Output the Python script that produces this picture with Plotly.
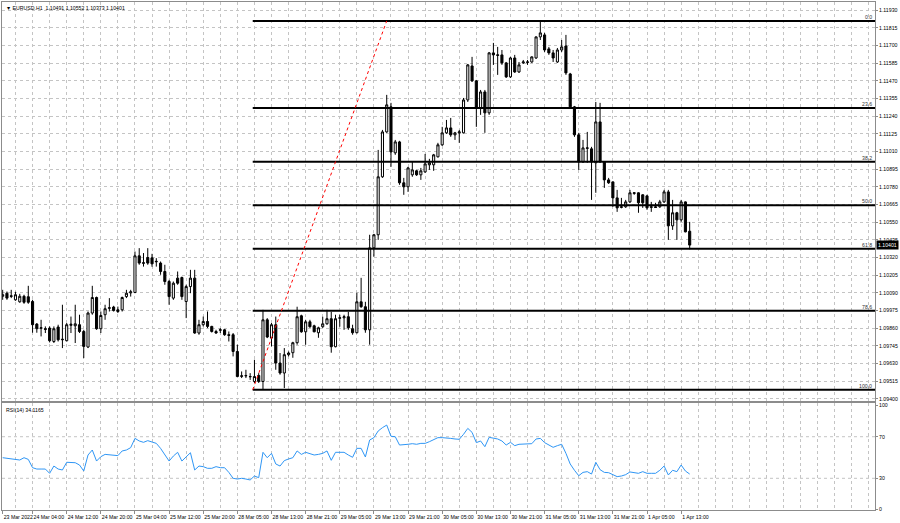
import plotly.graph_objects as go

bars = list(range(162))

open_ = [1.10068,1.10088,1.10071,1.10045,1.10032,1.10068,1.10065,1.10034,1.09887,1.09860,
1.09857,1.09861,1.09774,1.09868,1.09785,1.09779,1.09879,1.09876,1.09883,1.09839,
1.09738,1.09959,1.10060,1.09857,1.09948,1.09990,1.09998,1.09980,1.09980,1.10066,
1.10090,1.10093,1.10331,1.10282,1.10320,1.10318,1.10292,1.10284,1.10229,1.10164,
1.10056,1.10186,1.10190,1.10034,1.10131,1.10186,1.09829,1.09883,1.09904,1.09872,
1.09839,1.09847,1.09850,1.09818,1.09818,1.09709,1.09551,1.09553,1.09546,1.09514,
1.09553,1.09514,1.09915,1.09796,1.09883,1.09634,1.09569,1.09688,1.09701,1.09766,
1.09941,1.09837,1.09902,1.09876,1.09831,1.09870,1.09889,1.09922,1.09740,1.09925,
1.09928,1.09935,1.09857,1.09831,1.10032,1.10000,1.09850,1.10383,1.10468,1.10845,
1.11137,1.11300,1.11001,1.11072,1.10806,1.10780,1.10858,1.10884,1.10858,1.10877,
1.10923,1.10923,1.10975,1.11053,1.11131,1.11163,1.11118,1.11131,1.11131,1.11345,
1.11566,1.11469,1.11293,1.11397,1.11261,1.11651,1.11634,1.11638,1.11586,1.11495,
1.11618,1.11527,1.11586,1.11589,1.11592,1.11618,1.11755,1.11768,1.11677,1.11651,
1.11592,1.11670,1.11696,1.11514,1.11300,1.11118,1.10942,1.11030,1.11027,1.10936,
1.11202,1.10942,1.10825,1.10812,1.10708,1.10646,1.10650,1.10682,1.10737,1.10741,
1.10728,1.10721,1.10646,1.10650,1.10650,1.10682,1.10747,1.10526,1.10611,1.10565,
1.10682,1.10491]

high = [1.10110,1.10099,1.10110,1.10097,1.10084,1.10078,1.10136,1.10045,1.09894,1.09915,
1.09872,1.09872,1.09872,1.09883,1.10013,1.09894,1.09936,1.10013,1.09948,1.09850,
1.09969,1.10136,1.10066,1.09969,1.10013,1.10056,1.10006,1.10001,1.10066,1.10110,
1.10110,1.10359,1.10381,1.10349,1.10381,1.10344,1.10316,1.10294,1.10273,1.10175,
1.10164,1.10229,1.10196,1.10143,1.10240,1.10240,1.09915,1.09936,1.09969,1.09876,
1.09850,1.09861,1.09855,1.09839,1.09829,1.09753,1.09579,1.09590,1.09568,1.09655,
1.09568,1.09980,1.09926,1.09894,1.09936,1.09699,1.09731,1.09709,1.09772,1.10000,
1.09948,1.09915,1.09915,1.09883,1.09870,1.09935,1.09980,1.09967,1.09948,1.09948,
1.09948,1.09967,1.09883,1.10091,1.10188,1.10032,1.10468,1.10474,1.11020,1.11150,
1.11378,1.11326,1.11085,1.11079,1.10838,1.10910,1.10942,1.10890,1.10903,1.10994,
1.10962,1.10994,1.11066,1.11170,1.11215,1.11228,1.11137,1.11150,1.11358,1.11579,
1.11625,1.11475,1.11410,1.11410,1.11657,1.11716,1.11690,1.11670,1.11592,1.11625,
1.11638,1.11592,1.11605,1.11605,1.11628,1.11758,1.11859,1.11781,1.11690,1.11670,
1.11683,1.11735,1.11768,1.11521,1.11306,1.11131,1.11085,1.11137,1.11040,1.11332,
1.11326,1.10945,1.10838,1.10815,1.10760,1.10708,1.10695,1.10760,1.10744,1.10744,
1.10731,1.10728,1.10682,1.10676,1.10695,1.10760,1.10760,1.10695,1.10617,1.10695,
1.10685,1.10552]

low = [1.10045,1.10045,1.10056,1.10039,1.10026,1.10019,1.10019,1.09831,1.09831,1.09807,
1.09829,1.09768,1.09764,1.09774,1.09731,1.09774,1.09829,1.09764,1.09829,1.09666,
1.09731,1.09948,1.09850,1.09829,1.09915,1.09969,1.09969,1.09959,1.09969,1.10056,
1.10066,1.10088,1.10273,1.10261,1.10273,1.10260,1.10261,1.10208,1.10143,1.10013,
1.10045,1.10143,1.10045,1.09926,1.10088,1.09824,1.09818,1.09872,1.09861,1.09832,
1.09824,1.09829,1.09811,1.09774,1.09677,1.09541,1.09536,1.09536,1.09524,1.09504,
1.09504,1.09460,1.09796,1.09742,1.09590,1.09558,1.09471,1.09677,1.09668,1.09753,
1.09831,1.09753,1.09863,1.09834,1.09798,1.09863,1.09883,1.09701,1.09736,1.09870,
1.09850,1.09850,1.09818,1.09827,1.09993,1.09831,1.09753,1.10326,1.10435,1.10838,
1.11131,1.10910,1.10988,1.10793,1.10728,1.10747,1.10845,1.10851,1.10825,1.10871,
1.10890,1.10884,1.10971,1.11046,1.11124,1.11105,1.11085,1.11066,1.11127,1.11332,
1.11462,1.11170,1.11248,1.11131,1.11248,1.11573,1.11508,1.11573,1.11488,1.11488,
1.11521,1.11521,1.11579,1.11573,1.11586,1.11612,1.11735,1.11657,1.11638,1.11592,
1.11586,1.11657,1.11508,1.11293,1.11105,1.10890,1.10936,1.10936,1.10695,1.10741,
1.10936,1.10773,1.10799,1.10650,1.10617,1.10640,1.10643,1.10676,1.10728,1.10611,
1.10643,1.10630,1.10617,1.10643,1.10643,1.10676,1.10435,1.10500,1.10435,1.10552,
1.10484,1.10373]

close = [1.10078,1.10056,1.10068,1.10078,1.10068,1.10029,1.10029,1.09883,1.09857,1.09863,
1.09853,1.09779,1.09857,1.09785,1.09788,1.09883,1.09886,1.09889,1.09839,1.09742,
1.09959,1.10060,1.09857,1.09943,1.09987,1.09993,1.09975,1.09969,1.10060,1.10088,
1.10097,1.10331,1.10284,1.10286,1.10284,1.10279,1.10295,1.10229,1.10164,1.10066,
1.10153,1.10153,1.10066,1.10131,1.10186,1.09829,1.09883,1.09904,1.09872,1.09839,
1.09829,1.09850,1.09818,1.09814,1.09709,1.09546,1.09548,1.09551,1.09545,1.09546,
1.09514,1.09915,1.09803,1.09883,1.09634,1.09569,1.09688,1.09699,1.09766,1.09935,
1.09837,1.09902,1.09870,1.09837,1.09863,1.09889,1.09922,1.09740,1.09922,1.09928,
1.09935,1.09863,1.09831,1.10032,1.10000,1.09850,1.10383,1.10468,1.10845,1.11137,
1.11313,1.11007,1.11072,1.10806,1.10780,1.10903,1.10890,1.10858,1.10884,1.10929,
1.10936,1.10988,1.11053,1.11131,1.11163,1.11118,1.11131,1.11137,1.11345,1.11573,
1.11469,1.11293,1.11397,1.11261,1.11651,1.11638,1.11638,1.11586,1.11495,1.11618,
1.11527,1.11573,1.11592,1.11592,1.11625,1.11755,1.11781,1.11670,1.11651,1.11618,
1.11670,1.11690,1.11521,1.11300,1.11118,1.10942,1.11033,1.11033,1.10942,1.11202,
1.10942,1.10825,1.10806,1.10708,1.10643,1.10650,1.10682,1.10741,1.10741,1.10676,
1.10676,1.10643,1.10650,1.10646,1.10682,1.10747,1.10526,1.10611,1.10565,1.10682,
1.10487,1.10401]

rsi = [49.8,49.2,49.2,48.6,47.6,49.8,48.2,40.2,38.9,38.9,
38.9,34.8,41.8,38.9,38.0,45.4,45.4,45.0,42.8,37.0,
52.4,57.2,46.6,50.8,53.0,52.4,51.8,51.8,56.3,57.2,
59.5,68.4,65.9,64.6,66.2,64.6,63.6,58.8,53.0,46.6,
51.4,55.0,46.6,50.8,54.6,38.0,41.8,41.2,39.6,39.6,
41.2,40.2,40.2,35.7,30.0,29.3,30.0,29.3,28.4,32.2,
30.6,55.0,49.8,54.0,43.8,41.8,47.0,48.6,49.8,56.3,
53.0,55.0,53.7,52.4,53.0,54.0,56.3,47.3,55.0,55.0,
55.0,52.4,50.2,58.8,58.8,50.5,66.8,69.1,75.5,78.7,
81.2,70.4,70.0,62.0,62.0,62.7,63.3,62.7,63.6,63.6,
65.2,66.8,69.1,69.1,68.4,68.4,67.8,67.5,72.3,78.0,
74.2,64.3,65.9,60.4,69.4,68.4,67.8,65.9,62.0,64.6,
61.4,62.7,62.7,62.7,63.3,67.8,68.4,64.3,62.0,59.8,
61.4,62.7,54.0,43.8,37.7,32.5,35.7,36.4,34.1,45.4,
38.3,35.7,35.4,33.8,31.6,32.2,33.5,36.1,35.7,34.8,
36.4,34.8,34.8,34.8,37.7,41.8,33.2,37.7,36.4,42.8,
37.0,34.1]

tick_bars = [0, 7, 15, 23, 31, 39, 47, 55, 63, 71, 79, 87, 95, 103, 111, 119, 127, 135, 143, 151, 159]
tick_text = ["23 Mar 2022", "24 Mar 04:00", "24 Mar 12:00", "24 Mar 20:00", "25 Mar 04:00",
             "25 Mar 12:00", "25 Mar 20:00", "28 Mar 05:00", "28 Mar 13:00", "28 Mar 21:00",
             "29 Mar 05:00", "29 Mar 13:00", "29 Mar 21:00", "30 Mar 05:00", "30 Mar 13:00",
             "30 Mar 21:00", "31 Mar 05:00", "31 Mar 13:00", "31 Mar 21:00", "1 Apr 05:00",
             "1 Apr 13:00"]

price_ticks = [1.11930, 1.11815, 1.11700, 1.11585, 1.11470, 1.11355, 1.11240, 1.11125,
               1.11010, 1.10895, 1.10780, 1.10665, 1.10550, 1.10435, 1.10320, 1.10205,
               1.10090, 1.09975, 1.09860, 1.09745, 1.09630, 1.09515, 1.09400]
rsi_ticks = [100, 70, 30, 0]
rsi_levels = [70, 30]

fib_ratios = [0.0, 0.236, 0.382, 0.5, 0.618, 0.786, 1.0]
fib_labels = ["0.0", "23.6", "38.2", "50.0", "61.8", "78.6", "100.0"]
fib_start_bar = 58.6
fib_end_bar = 90
fib_high = 1.11859
fib_low = 1.09460

title_text = "\u25bc EURUSD.H1  1.10491 1.10552 1.10373 1.10401"
rsi_text = "RSI(14) 34.1165"
last_price = 1.10401

X_RANGE = [-0.16, 204.43]
FONT = "Liberation Sans"
FS = 5.2
GRID = "#c4c4c4"
FRAME = "#8c8c8c"

fig = go.Figure()

fig.add_trace(go.Candlestick(
    x=bars, open=open_, high=high, low=low, close=close,
    increasing=dict(fillcolor="white", line=dict(color="black", width=1)),
    decreasing=dict(fillcolor="black", line=dict(color="black", width=1)),
    whiskerwidth=0, xaxis="x", yaxis="y", showlegend=False, hoverinfo="skip"))

rng = fib_high - fib_low
for r, lab in zip(fib_ratios, fib_labels):
    lvl = fib_high - r * rng
    fig.add_trace(go.Scatter(x=[fib_start_bar, X_RANGE[1]], y=[lvl, lvl], mode="lines",
                             line=dict(color="black", width=2), xaxis="x", yaxis="y",
                             showlegend=False, hoverinfo="skip"))
    fig.add_annotation(text=lab, xref="paper", x=1, xanchor="right", xshift=-1,
                       yref="y", y=lvl, yanchor="bottom", yshift=-1, showarrow=False,
                       font=dict(family=FONT, size=FS, color="#333333"))

fig.add_trace(go.Scatter(x=[fib_start_bar, fib_end_bar], y=[fib_low, fib_high], mode="lines",
                         line=dict(color="red", width=1, dash="dot"), xaxis="x", yaxis="y",
                         showlegend=False, hoverinfo="skip"))

fig.add_trace(go.Scatter(x=bars, y=rsi, mode="lines", line=dict(color="#2f96f5", width=1),
                         xaxis="x2", yaxis="y2", showlegend=False, hoverinfo="skip"))

for lv in rsi_levels:
    fig.add_shape(type="line", xref="paper", x0=0, x1=1, yref="y2", y0=lv, y1=lv,
                  line=dict(color=GRID, width=1, dash="dot"), layer="below")

fig.add_annotation(text=title_text, xref="paper", x=0, xanchor="left", xshift=2,
                   yref="paper", y=1, yanchor="top", yshift=-1, showarrow=False,
                   font=dict(family=FONT, size=FS, color="black"))
fig.add_annotation(text=rsi_text, xref="paper", x=0, xanchor="left", xshift=2,
                   yref="y2 domain", y=1, yanchor="top", yshift=-2, showarrow=False,
                   font=dict(family=FONT, size=FS, color="black"))
fig.add_annotation(text=f"{last_price:.5f}", xref="paper", x=1, xanchor="left",
                   xshift=1, yref="y", y=last_price, yanchor="middle", showarrow=False,
                   bgcolor="black", borderpad=1, font=dict(family=FONT, size=FS, color="white"))

common_x = dict(range=X_RANGE, showgrid=True, gridcolor=GRID, griddash="dot", gridwidth=1,
                zeroline=False, showline=True, mirror=True, linecolor=FRAME, linewidth=1,
                tickmode="array", tickvals=tick_bars, automargin=False,
                minor=dict(tick0=3, dtick=4, showgrid=True, gridcolor=GRID, griddash="dot",
                           gridwidth=1, ticks=""))

fig.update_layout(
    template="none",
    width=900, height=523,
    margin=dict(l=2, r=25, t=2, b=13),
    paper_bgcolor="white", plot_bgcolor="white",
    font=dict(family=FONT, size=FS, color="black"),
    showlegend=False,
    xaxis=dict(domain=[0, 1], anchor="y", showticklabels=False, ticks="",
               rangeslider=dict(visible=False), **common_x),
    xaxis2=dict(domain=[0, 1], anchor="y2", ticktext=tick_text, ticks="outside", ticklen=3,
                tickcolor=FRAME, ticklabelposition="outside right", tickangle=0,
                ticklabelstandoff=2,
                tickfont=dict(family=FONT, size=FS, color="black"), **common_x),
    yaxis=dict(domain=[0.2146, 1], anchor="x", side="right", range=[1.09387, 1.11982],
               tickmode="array", tickvals=price_ticks, tickformat=".5f",
               ticks="outside", ticklen=2, tickcolor=FRAME,
               tickfont=dict(family=FONT, size=FS, color="black"),
               showgrid=True, gridcolor=GRID, griddash="dot", gridwidth=1,
               zeroline=False, showline=True, mirror=True, linecolor=FRAME, linewidth=1,
               automargin=False),
    yaxis2=dict(domain=[0, 0.2106], anchor="x2", side="right", range=[-0.48, 102.4],
                tickmode="array", tickvals=rsi_ticks, ticks="outside", ticklen=2,
                tickcolor=FRAME, tickfont=dict(family=FONT, size=FS, color="black"),
                showgrid=False, zeroline=False, showline=True, mirror=True,
                linecolor=FRAME, linewidth=1, automargin=False),
)

fig.write_html("out.html", config={"displayModeBar": False},
               post_script="document.body.style.margin='0';document.body.style.overflow='hidden';")
